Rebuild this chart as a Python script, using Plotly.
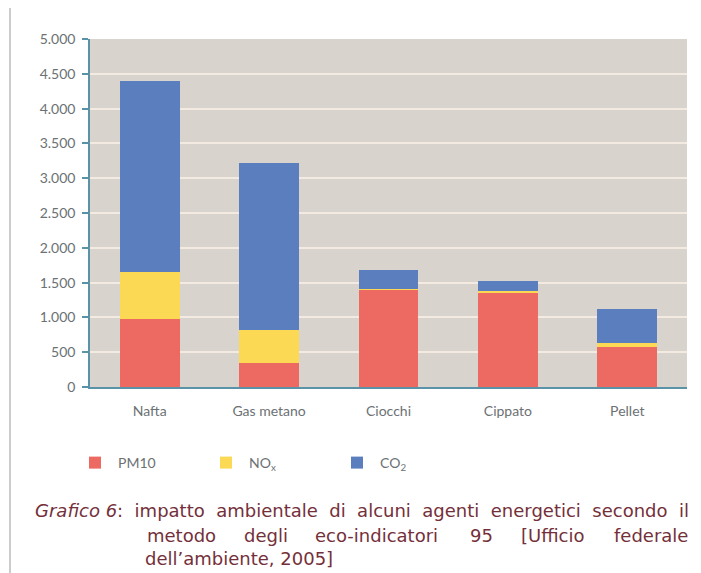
import plotly.graph_objects as go

categories = ["Nafta", "Gas metano", "Ciocchi", "Cippato", "Pellet"]
pm10 = [980, 340, 1400, 1360, 580]
nox = [670, 480, 15, 15, 50]
co2 = [2750, 2400, 265, 150, 490]

series_names = ["PM10", "NO<sub>x</sub>", "CO<sub>2</sub>"]
series_values = [pm10, nox, co2]
series_colors = ["#ec6a62", "#fcd955", "#5b7fbe"]

y_ticks = [0, 500, 1000, 1500, 2000, 2500, 3000, 3500, 4000, 4500, 5000]

caption_line1 = "<i>Grafico 6</i>:  impatto  ambientale  di  alcuni  agenti  energetici  secondo  il"
caption_line2_words = ["metodo", "degli", "eco-indicatori", "95", "[Ufficio", "federale"]
caption_line3 = "dell’ambiente, 2005]"

# the page body adds an 8px offset; the figure is sized to the remaining window
OFF = 8
W, H = 701 - OFF, 573 - OFF
# plot area in window pixels: x 90..687, y 39..387
X0, X1, Y0, Y1 = 90, 687, 39, 387
L, R, T, B = X0 - OFF, 701 - X1, Y0 - OFF, 573 - Y1
PW, PH = X1 - X0, Y1 - Y0


def px(x):
    return (x - X0) / PW


def py(y):
    return (Y1 - y) / PH


fig = go.Figure()
for name, vals, col in zip(series_names, series_values, series_colors):
    fig.add_trace(go.Bar(x=categories, y=vals, name=name,
                         marker=dict(color=col, line=dict(width=0))))

tick_font = dict(family="Lato", size=14, color="#6c7174")
axis_col = "#5a93a8"
cap_col = "#74303a"
cap_font = dict(family="DejaVu Sans", size=18, color=cap_col)

annotations = [
    dict(x=px(33), y=py(510), xref="paper", yref="paper", text=caption_line1,
         showarrow=False, xanchor="left", yanchor="middle", font=cap_font),
    dict(x=px(143), y=py(558), xref="paper", yref="paper", text=caption_line3,
         showarrow=False, xanchor="left", yanchor="middle", font=cap_font),
]
word_x = [145, 242, 313, 468, 519, 612]
for wx, wd in zip(word_x, caption_line2_words):
    annotations.append(dict(x=px(wx), y=py(535), xref="paper", yref="paper", text=wd,
                            showarrow=False, xanchor="left", yanchor="middle", font=cap_font))

shapes = [
    dict(type="line", xref="paper", yref="paper", x0=px(10), x1=px(705), y0=py(6), y1=py(6),
         line=dict(color="#cccccc", width=2)),
    dict(type="line", xref="paper", yref="paper", x0=px(10), x1=px(10), y0=py(6), y1=py(580),
         line=dict(color="#cccccc", width=2)),
]

fig.update_layout(
    width=W, height=H,
    margin=dict(l=L, r=R, t=T, b=B, pad=0),
    paper_bgcolor="white",
    plot_bgcolor="#d9d3cd",
    barmode="stack",
    bargap=0.5,
    separators=",.",
    showlegend=True,
    legend=dict(orientation="h", x=px(72), y=py(463), xanchor="left", yanchor="middle",
                traceorder="normal", font=tick_font, entrywidth=80, entrywidthmode="pixels",
                itemwidth=36, bgcolor="rgba(0,0,0,0)"),
    annotations=annotations,
    shapes=shapes,
    xaxis=dict(showline=True, linecolor=axis_col, linewidth=1.5, ticks="",
               tickfont=tick_font, ticklabelstandoff=10, showgrid=False),
    yaxis=dict(range=[0, 5000], tickvals=y_ticks, tickformat=",d", showline=True,
               linecolor=axis_col, linewidth=1.5, ticks="outside", ticklen=6,
               tickcolor=axis_col, tickwidth=1.5, tickfont=tick_font,
               gridcolor="#f3ebe1", gridwidth=1.5, zeroline=False, ticklabelstandoff=4),
)

fig.write_html("out.html")
